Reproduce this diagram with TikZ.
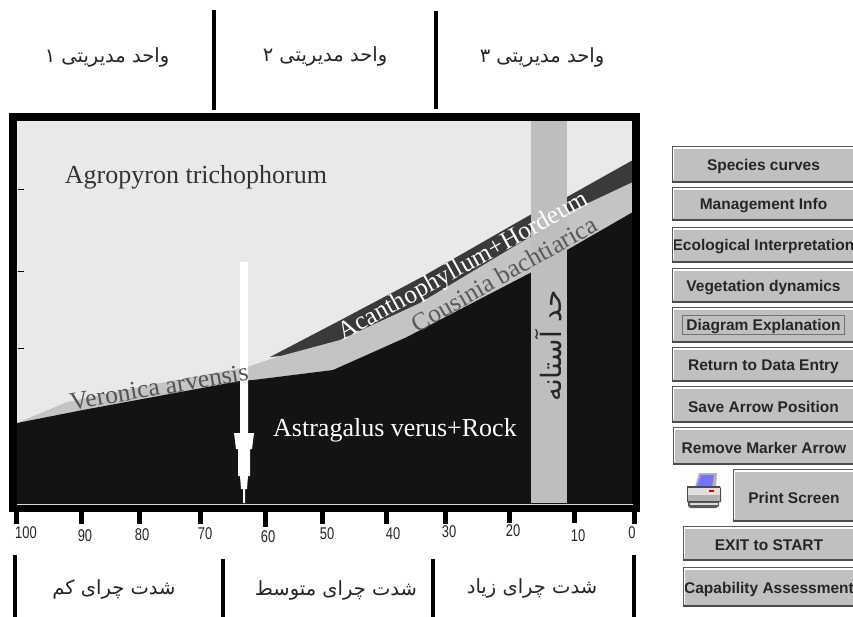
\documentclass[tikz,border=0pt]{standalone}
\usepackage{fontspec}
\setmainfont{Liberation Serif}
\setsansfont{Liberation Sans}
\newfontfamily\fa[Script=Arabic]{DejaVu Sans}
\TeXXeTstate=1
\definecolor{lightbg}{HTML}{E9E9E9}
\definecolor{bandgray}{HTML}{C4C4C4}
\definecolor{bargray}{HTML}{BEBEBE}
\definecolor{soil}{HTML}{131313}
\definecolor{darkband}{HTML}{3A3A3A}
\definecolor{btnface}{HTML}{C0C0C0}
\tikzset{
  rule/.style={line width=4.5pt,black},
  tickmark/.style={line width=5pt,black},
  sidetick/.style={line width=1pt,black},
  numlabel/.style={font=\sffamily\fontsize{17}{17}\selectfont,xscale=.76,transform shape,text=black!85,inner sep=0pt},
  falabel/.style={font=\fa\fontsize{19.5}{21}\selectfont,text=black!85,inner sep=0pt},
  plotlabel/.style={font=\rmfamily\fontsize{26}{28}\selectfont,inner sep=0pt},
  bandlabel/.style={font=\rmfamily\fontsize{25.5}{28}\selectfont,inner sep=0pt},
  btnlabel/.style={font=\sffamily\bfseries\fontsize{15.5}{17}\selectfont,text=black!85,inner sep=0pt},
}
\newcommand{\btn}[6]{%
  \fill[btnface] (#2,#3) rectangle (#4,#5);
  \draw[black!65,line width=1pt] (#2+.5,#5-1) -- (#2+.5,#3+.5) -- (#4,#3+.5);
  \draw[white,line width=1.2pt] (#2+1.8,#5-3) -- (#2+1.8,#3+2) -- (#4,#3+2);
  \draw[black!70,line width=2.4pt] (#2,#5-1.2) -- (#4,#5-1.2);
  \begin{scope}
    \clip (#2+2,#3) rectangle (#4,#5);
    \node[btnlabel] (#1) at ({(#2+#4)/2+1},{(#3+#5)/2+2}) {#6};
  \end{scope}
}
\begin{document}
\begin{tikzpicture}[x=1pt,y=-1pt]
\useasboundingbox (0,0) rectangle (853,617);
\fill[white] (0,0) rectangle (853,617);
% plot
\fill[lightbg] (13,117) rectangle (637,505);
% dark band
\fill[darkband] (270,357) -- (337,322) -- (420,278) -- (530,215) -- (567,197) -- (633,160)
  -- (633,190) -- (567,220) -- (420,320) -- (340,350) -- cycle;
% gray band
\fill[bandgray] (17,423) -- (67,402) -- (150,385) -- (247,367) -- (277,357) -- (340,340) -- (420,303)
  -- (530,237) -- (567,213) -- (633,182) -- (633,215) -- (567,250) -- (530,273) -- (407,337)
  -- (333,370) -- (253,380) -- (150,400) -- cycle;
% soil
\fill[soil] (17,423) -- (83,410) -- (240,381) -- (253,380) -- (333,370) -- (407,337) -- (530,273)
  -- (567,250) -- (633,212) -- (633,505) -- (17,505) -- cycle;
% threshold bar
\fill[bargray] (531,121) rectangle (567,503);
% frame
\draw[line width=8pt,black] (13,117) rectangle (636,508);
\draw[white!85!black,line width=1pt] (17,504.5) -- (633,504.5);
% side ticks
\draw[sidetick] (18,190) -- (24,190);
\draw[sidetick] (18,272) -- (24,272);
\draw[sidetick] (18,348) -- (24,348);
% marker arrow
\fill[white] (240,262) -- (248,262) -- (248,433) -- (254,433) -- (252,449) -- (250,449) -- (250,476) -- (248,476)
  -- (247,489) -- (245,489) -- (245,503) -- (243,503) -- (243,489) -- (241,489) -- (240,476) -- (238,476)
  -- (238,449) -- (236,449) -- (234,433) -- (240,433) -- cycle;
% plot labels
\node[plotlabel,text=black!80] (agro) at (196,177) {Agropyron trichophorum};
\node[plotlabel,text=white] (astra) at (395,430) {Astragalus verus+Rock};
\node[bandlabel,text=black!68,rotate=9.5] (vero) at (159,387) {Veronica arvensis};
\node[bandlabel,text=white,rotate=29] (acan) at (464,267) {Acanthophyllum+Hordeum};
\node[bandlabel,text=black!65,rotate=29.5] (cous) at (504,274) {Cousinia bachtiarica};
\node[font=\fa\fontsize{28}{30}\selectfont,inner sep=0pt,text=black!85,rotate=90] (thresh) at (549,346) {\beginR حد آستانه\endR};
% top
\draw[rule] (214,10) -- (214,110);
\draw[rule] (436,11) -- (436,109);
\node[falabel] (unita) at (107,57) {\beginR واحد مدیریتی ۱\endR};
\node[falabel] (unitb) at (325,56) {\beginR واحد مدیریتی ۲\endR};
\node[falabel] (unitc) at (542,57) {\beginR واحد مدیریتی ۳\endR};
% ticks
\foreach \tx/\ty in {16/524,81/524,139/524,200/524,265/527,322/524,386/524,445/524,509/523,574/523,634/524}
  \draw[tickmark] (\tx,512) -- (\tx,\ty);
% numbers
\node[numlabel] (n100) at (26,533) {100};
\node[numlabel] (n90) at (85,536) {90};
\node[numlabel] (n80) at (142,535) {80};
\node[numlabel] (n70) at (205,534) {70};
\node[numlabel] (n60) at (268,537) {60};
\node[numlabel] (n50) at (327,534) {50};
\node[numlabel] (n40) at (393,534) {40};
\node[numlabel] (n30) at (449,532) {30};
\node[numlabel] (n20) at (513,531) {20};
\node[numlabel] (n10) at (578,536) {10};
\node[numlabel] (n0) at (632,533) {0};
% bottom
\draw[rule] (15,555) -- (15,617);
\draw[rule] (223,559) -- (223,617);
\draw[rule] (433,559) -- (433,617);
\draw[rule] (634,555) -- (634,617);
\node[falabel] (low) at (114,589) {\beginR شدت چرای کم\endR};
\node[falabel] (mid) at (336,590) {\beginR شدت چرای متوسط\endR};
\node[falabel] (high) at (532,588) {\beginR شدت چرای زیاد\endR};
% buttons
\btn{b1}{672}{146}{853}{183}{Species curves}
\btn{b2}{672}{187}{853}{221}{Management Info}
\btn{b3}{672}{227}{853}{263}{Ecological Interpretation}
\btn{b4}{672}{268}{853}{303}{Vegetation dynamics}
\btn{b5}{672}{307}{853}{343}{Diagram Explanation}
\draw[black!55,line width=.7pt] (682,315) rectangle (844,334);
\btn{b6}{672}{347}{853}{382}{Return to Data Entry}
\btn{b7}{672}{386}{853}{423}{Save Arrow Position}
\btn{b8}{673}{427}{853}{465}{Remove Marker Arrow}
\btn{b9}{733}{469}{853}{522}{Print Screen}
\btn{b10}{683}{526}{853}{561}{EXIT to START}
\btn{b11}{683}{567}{853}{607}{Capability Assessment}
% printer icon
\fill[black!65] (688,502) -- (719,502) -- (719,506) -- (716,508) -- (690,508) -- (688,506) -- cycle;
\fill[black!15] (690,503) rectangle (718,505);
\fill[black!30] (699,473) -- (717,473) -- (716,487) -- (695,487) -- cycle;
\fill[blue!55!white] (701,475) -- (714,475) -- (712,486) -- (697,486) -- cycle;
\fill[black!70] (687,486) -- (720,486) -- (721,489) -- (721,502) -- (687,502) -- cycle;
\fill[black!12] (688,488) rectangle (720,495);
\fill[black!30] (688,495) rectangle (720,501);
\fill[red!85!black] (709,490) rectangle (714,491.5);
\end{tikzpicture}
\end{document}
